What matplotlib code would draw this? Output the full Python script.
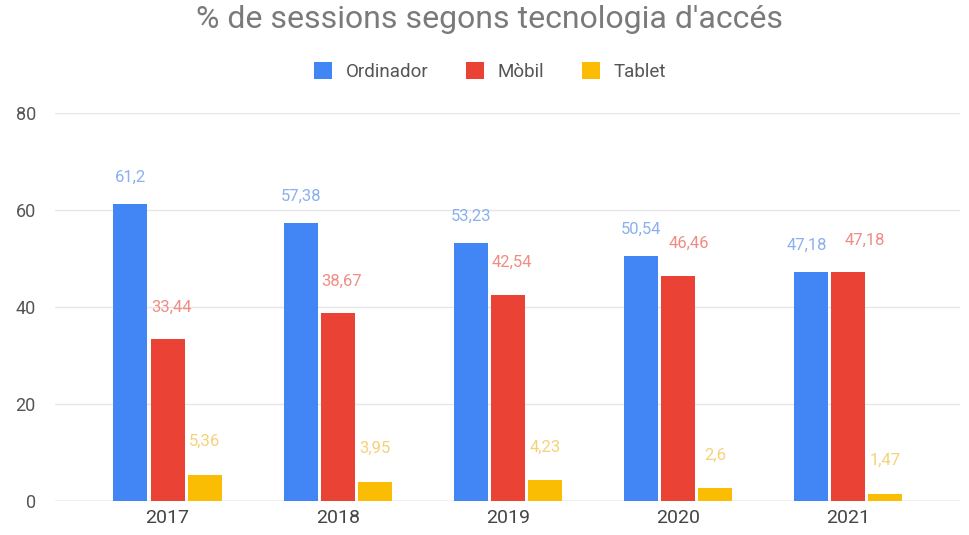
import numpy as np
import matplotlib
matplotlib.use("Agg")
import matplotlib.pyplot as plt

years = ["2017", "2018", "2019", "2020", "2021"]
ordinador = [61.2, 57.38, 53.23, 50.54, 47.18]
mobil = [33.44, 38.67, 42.54, 46.46, 47.18]
tablet = [5.36, 3.95, 4.23, 2.6, 1.47]

# name, values, bar colour, label colour, label lift (pt), label x shifts (pt)
series = [
    ("Ordinador", ordinador, "#4285F4", "#8AB0F0", 19, [0, 0, 0, 0, -3]),
    ("Mòbil", mobil, "#EA4335", "#F08C84", 23, [3, 3, 3, 8, 12]),
    ("Tablet", tablet, "#FBBC04", "#F5D27A", 24, [0, 0, 0, 0, 0]),
]

plt.rcParams["font.family"] = ["Roboto", "DejaVu Sans"]

fig = plt.figure(figsize=(9.7, 5.35), dpi=100)
ax = fig.add_axes([0.057, 0.0636, 0.933, 0.7252])

x = np.arange(len(years))
width = 0.2
step = 0.218

for i, (name, vals, color, lcolor, off, shifts) in enumerate(series):
    pos = x + (i - 1) * step
    ax.bar(pos, vals, width=width, color=color, label=name, zorder=3)
    for px, v, dx in zip(pos, vals, shifts):
        txt = f"{v:g}".replace(".", ",")
        ax.annotate(txt, (px, v), xytext=(dx, off), textcoords="offset points",
                    ha="center", va="center", fontsize=12, color=lcolor, zorder=4)

ax.set_xlim(-0.66, 4.66)
ax.set_ylim(0, 80)
ax.set_yticks([0, 20, 40, 60, 80])
ax.set_xticks(x)
ax.set_xticklabels(years)
ax.grid(axis="y", color="#e6e6e6", lw=1, zorder=0)
ax.axhline(0, color="#cccccc", lw=1, zorder=2)
for s in ax.spines.values():
    s.set_visible(False)
ax.tick_params(axis="x", length=0, labelsize=14, colors="#444444", pad=6)
ax.tick_params(axis="y", length=0, labelsize=13, colors="#555555", pad=14)

fig.suptitle("% de sessions segons tecnologia d'accés", x=0.505, y=0.99,
             fontsize=23, color="#7a7a7a")
fig.legend(loc="center", bbox_to_anchor=(0.505, 0.867), ncol=3, frameon=False,
           fontsize=13.5, labelcolor="#555555", handlelength=1.0, handleheight=1.0,
           columnspacing=2.0, handletextpad=0.7)

fig.savefig("out.png", dpi=100, facecolor="white")
